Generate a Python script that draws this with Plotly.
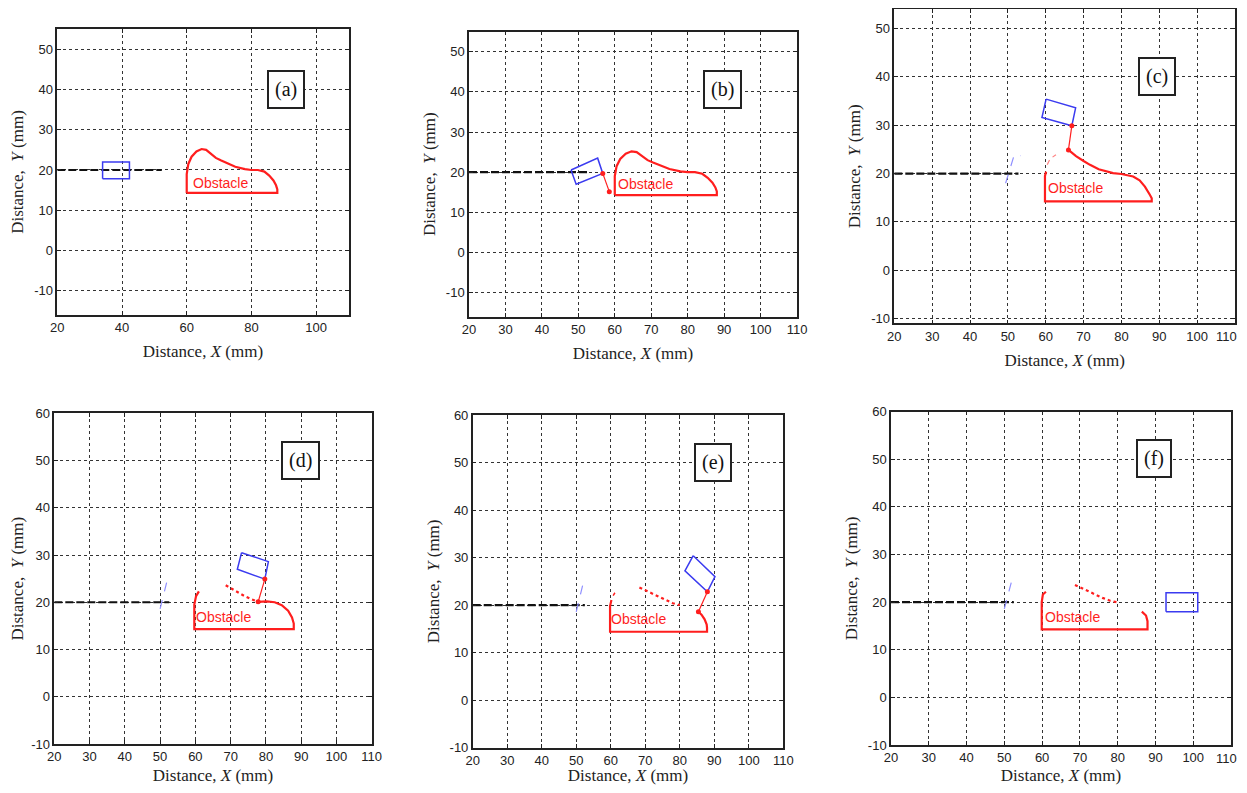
import plotly.graph_objects as go

# page is 1247x793; the browser body has an 8 px margin, so the figure is a bit smaller
PAGE_W, PAGE_H = 1247, 793
OFF = 8
W, H = PAGE_W - 2 * OFF, PAGE_H - 2 * OFF

# ---------------- data ----------------
panel_labels = ["(a)", "(b)", "(c)", "(d)", "(e)", "(f)"]
x_ticks_a = [20, 40, 60, 80, 100]
x_ticks = [20, 30, 40, 50, 60, 70, 80, 90, 100, 110]
y_ticks_top = [-10, 0, 10, 20, 30, 40, 50]
y_ticks_bottom = [-10, 0, 10, 20, 30, 40, 50, 60]
y_ranges = [[-16, 55], [-16, 55], [-11, 54], [-10, 60], [-10, 60], [-10, 60]]
label_pos = [(90.7, 40.0), (89.5, 40.5), (89.3, 40.0), (89.9, 50.1), (89.6, 50.0), (89.5, 50.2)]
text_pos = [(70.4, 16.7), (68.3, 17.0), (67.9, 17.0), (68.0, 16.8), (68.0, 17.0), (68.1, 16.8)]

# path history (black) end x at y = 20
path_end_x = [52.3, 52.7, 52.8, 52.6, 52.5, 52.5]
path_y = 20

# obstacle outlines
obs_full_x = [60, 60, 60.5, 61.5, 63, 64.6, 66, 67.5, 69, 70.5, 72.5, 75, 78, 80, 82, 84, 85.5, 86.8, 87.6, 88, 88, 60]
obs_full_y = [14.3, 19, 21.5, 23.3, 24.6, 25.2, 25, 24, 23, 22.4, 21.6, 20.8, 20.2, 20.0, 20.0, 19.6, 18.6, 17.4, 16.2, 15.2, 14.3, 14.3]
obs_c_x = [66.0, 68.0, 70.0, 71.7, 74.0, 77.8, 80.0, 83.1, 84.8, 86.2, 87.5, 88.0, 88.0, 59.8, 59.8, 60.1]
obs_c_y = [24.9, 23.6, 22.6, 21.8, 20.9, 20.1, 19.9, 19.4, 18.6, 17.3, 15.6, 14.9, 14.25, 14.25, 19.5, 20.4]
obs_c_frag1_x = [60.4, 61.0]
obs_c_frag1_y = [21.8, 22.8]
obs_c_frag2_x = [61.8, 62.7]
obs_c_frag2_y = [23.4, 23.9]
obs_d_x = [77.8, 80.2, 82.5, 84.5, 86.3, 87.4, 87.9, 87.9, 59.7, 59.7, 60.2, 61.0]
obs_d_y = [20.1, 20.2, 20.0, 19.4, 18.2, 16.8, 15.5, 14.3, 14.3, 19.5, 21.3, 22.3]
obs_e_x = [85.4, 86.3, 87.2, 87.8, 87.9, 87.9, 59.8, 59.8, 60.2]
obs_e_y = [18.6, 18.0, 17.0, 15.9, 15.2, 14.4, 14.4, 19.8, 21.1]
obs_e_frag_x = [60.7, 61.2]
obs_e_frag_y = [22.0, 22.6]
obs_f_x = [61.0, 60.2, 59.9, 59.9, 87.9, 87.9, 87.5, 86.4]
obs_f_y = [22.2, 21.6, 20.0, 14.3, 14.3, 16.0, 17.2, 18.0]

# eroded (dotted) arcs
arc_d_x = [68.6, 70.0, 72.0, 74.0, 76.0, 77.8]
arc_d_y = [23.6, 23.0, 22.1, 21.3, 20.6, 20.1]
arc_e_x = [68.3, 70.0, 72.0, 74.0, 76.0, 78.0, 80.0]
arc_e_y = [23.7, 23.1, 22.4, 21.7, 21.0, 20.4, 20.0]
arc_f_x = [68.7, 70.0, 72.0, 74.0, 76.0, 78.0, 80.2]
arc_f_y = [23.6, 23.1, 22.3, 21.6, 20.9, 20.3, 19.9]

# tool (blue rectangle) corners
tool_a_x = [34.0, 42.3, 42.3, 34.0, 34.0]
tool_a_y = [17.8, 17.8, 22.0, 22.0, 17.8]
tool_b_x = [48.0, 55.3, 56.7, 49.4, 48.0]
tool_b_y = [20.55, 23.5, 19.7, 17.0, 20.55]
tool_c_x = [60.1, 67.9, 66.9, 59.0, 60.1]
tool_c_y = [35.4, 33.6, 29.9, 31.6, 35.4]
tool_d_x = [73.1, 80.7, 79.7, 71.9, 73.1]
tool_d_y = [30.5, 28.6, 24.9, 27.0, 30.5]
tool_e_x = [83.9, 90.2, 88.0, 81.5, 83.9]
tool_e_y = [30.4, 26.0, 22.8, 27.2, 30.4]
tool_f_x = [92.8, 101.2, 101.2, 92.8, 92.8]
tool_f_y = [18.0, 18.0, 22.0, 22.0, 18.0]

# red link (tool corner to obstacle contact)
link_b_x = [56.7, 58.5]
link_b_y = [19.7, 15.15]
link_c_x = [66.9, 66.0]
link_c_y = [29.9, 24.9]
link_d_x = [79.7, 77.8]
link_d_y = [24.9, 20.1]
link_e_x = [88.0, 85.4]
link_e_y = [22.8, 18.6]

# faint blue swept stroke near x = 50
sweep_c_x = [49.4, 51.7, 53.4]
sweep_c_y = [18.0, 23.9, 23.7]
sweep_x = [50.0, 51.9, 52.7]
sweep_y = [18.6, 24.3, 24.3]

# ---------------- layout geometry (page pixels) ----------------
domains_px = [
    (57.3, 348.5, 29.0, 315.0),
    (469.0, 797.0, 31.7, 316.7),
    (894.3, 1235.0, 9.3, 323.3),
    (54.3, 371.7, 413.3, 744.0),
    (472.7, 783.3, 415.0, 747.7),
    (891.0, 1231.0, 411.7, 745.0),
]
# panels whose last x tick label sits at the page edge (drawn as a shifted annotation)
edge_label_panels = [2, 5]

RED = "#ff1e1e"
BLUE = "#3b3bf0"
FAINT_BLUE = "#8f8fff"
TICK_FONT = dict(family="Liberation Sans Narrow, Arial Narrow, Liberation Sans, Arial", size=13, color="#222")
TITLE_FONT = dict(family="Liberation Serif, Times New Roman, serif", size=17, color="#222")


def fx(px):
    return (px - OFF) / W


def fy(px):
    return 1 - (px - OFF) / H


fig = go.Figure()
layout = dict(width=W, height=H, margin=dict(l=0, r=0, t=0, b=0, autoexpand=False),
              paper_bgcolor="white", plot_bgcolor="white", showlegend=False,
              annotations=[])


def ax_id(i):
    return ("x" if i == 0 else f"x{i+1}", "y" if i == 0 else f"y{i+1}")


def add(i, xs, ys, color, width=2, dash="solid", mode="lines", marker=None):
    xa, ya = ax_id(i)
    kw = dict(x=xs, y=ys, mode=mode, xaxis=xa, yaxis=ya, hoverinfo="skip",
              line=dict(color=color, width=width, dash=dash))
    if marker is not None:
        kw["marker"] = marker
    fig.add_trace(go.Scatter(**kw))


for i in range(6):
    x0, x1, y0, y1 = domains_px[i]
    xa, ya = ax_id(i)
    xkey = "xaxis" if i == 0 else f"xaxis{i+1}"
    ykey = "yaxis" if i == 0 else f"yaxis{i+1}"
    common = dict(showline=True, linecolor="#222", linewidth=1.5, mirror="ticks",
                  ticks="inside", ticklen=4, tickcolor="#222", automargin=False,
                  ticklabeloverflow="allow",
                  showgrid=True, gridcolor="#333", gridwidth=1.2, griddash="dot",
                  zeroline=False, tickfont=TICK_FONT, fixedrange=True)
    xt = x_ticks_a if i == 0 else x_ticks
    yt = y_ticks_top if i < 3 else y_ticks_bottom
    xtext = [str(v) for v in xt]
    if i in edge_label_panels:
        xtext[-1] = ""
        layout["annotations"].append(dict(
            x=fx(1238.5), y=fy(y1), xref="paper", yref="paper", xanchor="right", yanchor="top",
            yshift=-4, text=str(xt[-1]), showarrow=False, font=TICK_FONT))
    layout[xkey] = dict(common, domain=[fx(x0), fx(x1)], anchor=ya, range=[20, 110],
                        tickvals=xt, ticktext=xtext,
                        title=dict(text="Distance, <i>X</i> (mm)", font=TITLE_FONT, standoff=11))
    layout[ykey] = dict(common, domain=[fy(y1), fy(y0)], anchor=xa, range=y_ranges[i],
                        tickvals=yt, ticktext=[str(v) for v in yt],
                        title=dict(text="Distance,  <i>Y</i> (mm)", font=TITLE_FONT, standoff=6))

    # path history
    add(i, [20, path_end_x[i]], [path_y, path_y], "#111", width=2.2, dash="8px,3px")

    lx, ly = label_pos[i]
    layout["annotations"].append(dict(
        x=lx, y=ly, xref=xa, yref=ya, text=panel_labels[i], showarrow=False,
        font=dict(family="Liberation Serif, Times New Roman, serif", size=20, color="#111"),
        bgcolor="white", bordercolor="#222", borderwidth=2, borderpad=6))
    tx, ty = text_pos[i]
    layout["annotations"].append(dict(
        x=tx, y=ty, xref=xa, yref=ya, text="Obstacle", showarrow=False,
        font=dict(family="Liberation Sans Narrow, Arial Narrow, Liberation Sans, Arial", size=14, color=RED)))

dots = dict(size=5, color=RED)

# (a)
add(0, obs_full_x, obs_full_y, RED, width=2.2)
add(0, tool_a_x, tool_a_y, BLUE, width=1.5)
# (b)
add(1, obs_full_x, obs_full_y, RED, width=2.2)
add(1, tool_b_x, tool_b_y, BLUE, width=1.5)
add(1, link_b_x, link_b_y, RED, width=1.2, mode="lines+markers", marker=dots)
# (c)
add(2, sweep_c_x, sweep_c_y, FAINT_BLUE, width=1.2, dash="dash")
add(2, obs_c_x, obs_c_y, RED, width=2.2)
add(2, obs_c_frag1_x, obs_c_frag1_y, "#ff8080", width=1.2)
add(2, obs_c_frag2_x, obs_c_frag2_y, "#ff8080", width=1.2)
add(2, tool_c_x, tool_c_y, BLUE, width=1.5)
add(2, link_c_x, link_c_y, RED, width=1.2, mode="lines+markers", marker=dots)
# (d)
add(3, sweep_x, sweep_y, FAINT_BLUE, width=1.2, dash="dash")
add(3, obs_d_x, obs_d_y, RED, width=2.2)
add(3, arc_d_x, arc_d_y, RED, width=2.2, dash="dot")
add(3, tool_d_x, tool_d_y, BLUE, width=1.5)
add(3, link_d_x, link_d_y, RED, width=1.2, mode="lines+markers", marker=dots)
# (e)
add(4, sweep_x, sweep_y, FAINT_BLUE, width=1.2, dash="dash")
add(4, obs_e_x, obs_e_y, RED, width=2.2)
add(4, obs_e_frag_x, obs_e_frag_y, RED, width=1.5)
add(4, arc_e_x, arc_e_y, RED, width=2.2, dash="dot")
add(4, tool_e_x, tool_e_y, BLUE, width=1.5)
add(4, link_e_x, link_e_y, RED, width=1.2, mode="lines+markers", marker=dots)
# (f)
add(5, sweep_x, sweep_y, FAINT_BLUE, width=1.2, dash="dash")
add(5, obs_f_x, obs_f_y, RED, width=2.2)
add(5, arc_f_x, arc_f_y, RED, width=2.2, dash="dot")
add(5, tool_f_x, tool_f_y, BLUE, width=1.5)

fig.update_layout(**layout)
fig.write_html("out.html")
